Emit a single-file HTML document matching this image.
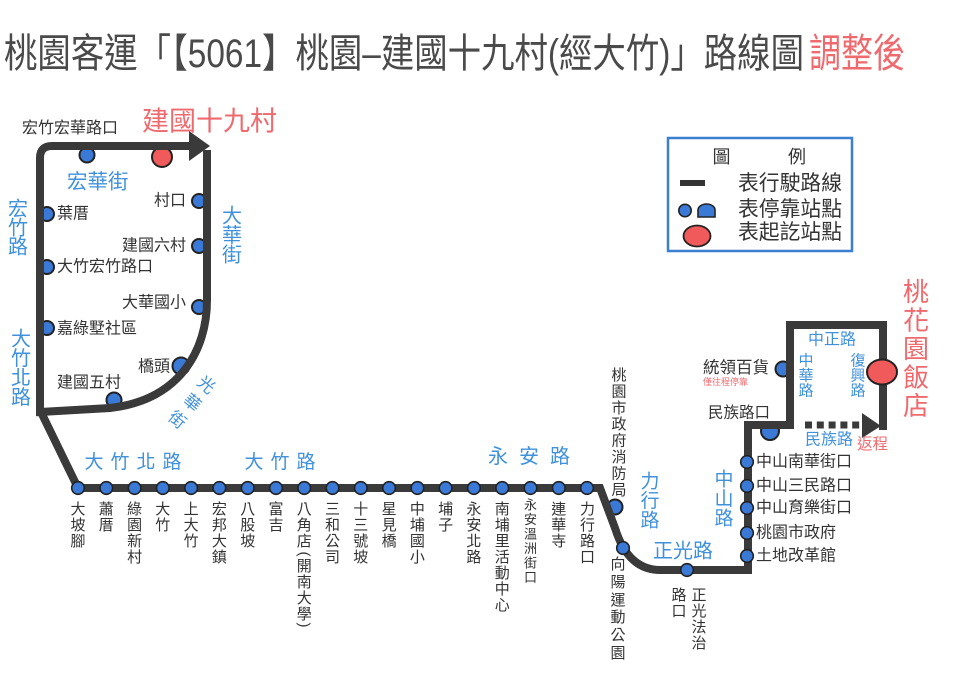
<!DOCTYPE html>
<html><head><meta charset="utf-8">
<style>
html,body{margin:0;padding:0;background:#fff;}
svg{display:block;}
text{font-family:"Liberation Sans","Noto Sans CJK TC",sans-serif;dominant-baseline:central;}
.d{fill:#333;}
.b{fill:#3f91dc;}
.r{fill:#ef6a6e;}
.v{text-anchor:middle;}
</style></head>
<body>
<svg width="960" height="679" viewBox="0 0 960 679" xmlns="http://www.w3.org/2000/svg">
<rect width="960" height="679" fill="#fff"/>

<!-- Title -->
<text x="4" y="54" font-size="40" fill="#4a4a4a" textLength="800" lengthAdjust="spacingAndGlyphs">桃園客運「【5061】桃園–建國十九村(經大竹)」路線圖</text>
<text x="809" y="54" font-size="40" class="r" textLength="96" lengthAdjust="spacingAndGlyphs">調整後</text>

<!-- dome stops (drawn before lines) -->
<g fill="#3a79d5" stroke="#222" stroke-width="2">
<circle cx="87" cy="155" r="7.5"/>
<circle cx="199" cy="201" r="7"/>
<circle cx="199" cy="246" r="7"/>
<circle cx="199" cy="307" r="7"/>
<circle cx="47" cy="214" r="7"/>
<circle cx="47" cy="267" r="7"/>
<circle cx="47" cy="328" r="7"/>
<circle cx="114" cy="400" r="7.5"/>
<circle cx="181" cy="366" r="8.5"/>
<circle cx="783" cy="369" r="7.5"/>
<circle cx="770" cy="431" r="9"/>
<circle cx="615" cy="507" r="7.5"/>
</g>
<circle cx="162" cy="157" r="10" fill="#f05a5a" stroke="#222" stroke-width="2"/>

<!-- route lines -->
<g fill="none" stroke="#3a3a3a" stroke-width="8" stroke-linejoin="miter">
<path d="M207,150 L207,300 C207,350 180,400 110,408 L40,412 L40,158 Q40,146 52,146 L192,146"/>
<path d="M40,410 L78,488"/>
<path d="M78,488 L600,488 L615,528 Q628,570 660,570 L748,570 L748,425 L790,425 L790,325 L883,325 L883,430"/>
</g>
<polygon points="189,131 210,146 189,161" fill="#3a3a3a"/>
<line x1="805" y1="425" x2="860" y2="425" stroke="#3a3a3a" stroke-width="7" stroke-dasharray="7 4.8"/>
<polygon points="862,413 881,426 862,438" fill="#3a3a3a"/>

<!-- round stops on line -->
<g fill="#3a79d5" stroke="#222" stroke-width="1.6">
<circle cx="78" cy="488" r="6.3"/>
<circle cx="106.3" cy="488" r="6.3"/>
<circle cx="134.6" cy="488" r="6.3"/>
<circle cx="162.8" cy="488" r="6.3"/>
<circle cx="191.1" cy="488" r="6.3"/>
<circle cx="219.4" cy="488" r="6.3"/>
<circle cx="247.7" cy="488" r="6.3"/>
<circle cx="276" cy="488" r="6.3"/>
<circle cx="304.2" cy="488" r="6.3"/>
<circle cx="332.5" cy="488" r="6.3"/>
<circle cx="360.8" cy="488" r="6.3"/>
<circle cx="389.1" cy="488" r="6.3"/>
<circle cx="417.4" cy="488" r="6.3"/>
<circle cx="445.6" cy="488" r="6.3"/>
<circle cx="473.9" cy="488" r="6.3"/>
<circle cx="502.2" cy="488" r="6.3"/>
<circle cx="530.5" cy="488" r="6.3"/>
<circle cx="558.8" cy="488" r="6.3"/>
<circle cx="587" cy="488" r="6.3"/>
<circle cx="623" cy="548" r="6.3"/>
<circle cx="687" cy="570" r="6.3"/>
<circle cx="747" cy="462" r="6.3"/>
<circle cx="747" cy="486" r="6.3"/>
<circle cx="747" cy="508" r="6.3"/>
<circle cx="747" cy="533" r="6.3"/>
<circle cx="747" cy="556" r="6.3"/>
</g>
<ellipse cx="882" cy="372" rx="15" ry="12.5" fill="#f05a5a" stroke="#222" stroke-width="2"/>

<!-- Legend -->
<rect x="668" y="138" width="184" height="113" fill="#fff" stroke="#3a7fd0" stroke-width="2.5"/>
<text x="721.5" y="157" font-size="18" class="d v">圖</text>
<text x="797" y="157" font-size="18" class="d v">例</text>
<rect x="680" y="180" width="25" height="6" fill="#333"/>
<circle cx="685" cy="210.5" r="6.2" fill="#3a79d5" stroke="#222" stroke-width="1.6"/>
<path d="M698,217 L698,210 A8.5,6 0 0 1 715,210 L715,217 Z" fill="#3a79d5" stroke="#222" stroke-width="1.6"/>
<ellipse cx="697" cy="236" rx="13.5" ry="10.5" fill="#f05a5a" stroke="#222" stroke-width="1.8"/>
<text x="738" y="183.5" font-size="21" class="d" textLength="104" lengthAdjust="spacingAndGlyphs">表行駛路線</text>
<text x="738" y="209.5" font-size="21" class="d" textLength="104" lengthAdjust="spacingAndGlyphs">表停靠站點</text>
<text x="738" y="232.5" font-size="21" class="d" textLength="104" lengthAdjust="spacingAndGlyphs">表起訖站點</text>

<!-- Left loop labels -->
<text x="22" y="128.5" font-size="16" class="d">宏竹宏華路口</text>
<text x="142" y="121.5" font-size="27" class="r">建國十九村</text>
<text x="67" y="182" font-size="20.5" class="b">宏華街</text>
<g font-size="16" class="d">
<text x="57" y="214" class="d">葉厝</text>
<text x="57" y="267" class="d">大竹宏竹路口</text>
<text x="57" y="329" class="d">嘉綠墅社區</text>
<text x="186" y="201" class="d" text-anchor="end">村口</text>
<text x="186" y="246" class="d" text-anchor="end">建國六村</text>
<text x="186" y="303" class="d" text-anchor="end">大華國小</text>
<text x="170" y="367" class="d" text-anchor="end">橋頭</text>
<text x="57" y="383" class="d">建國五村</text>
</g>
<g font-size="20" class="b v">
<text class="b v"><tspan x="18" y="209.5">宏</tspan><tspan x="18" y="228.5">竹</tspan><tspan x="18" y="247.5">路</tspan></text>
<text class="b v"><tspan x="21" y="339.5">大</tspan><tspan x="21" y="359">竹</tspan><tspan x="21" y="378.5">北</tspan><tspan x="21" y="398">路</tspan></text>
<text class="b v"><tspan x="232" y="216.5">大</tspan><tspan x="232" y="236">華</tspan><tspan x="232" y="255.5">街</tspan></text>
</g>
<g font-size="17">
<text class="b v" transform="translate(206,385) rotate(40)">光</text>
<text class="b v" transform="translate(192,403) rotate(40)">華</text>
<text class="b v" transform="translate(177,420) rotate(40)">街</text>
</g>

<!-- Road names along bottom -->
<g font-size="19">
<text class="b v"><tspan x="94" y="462">大</tspan><tspan x="120" y="462">竹</tspan><tspan x="146" y="462">北</tspan><tspan x="172" y="462">路</tspan></text>
<text class="b v"><tspan x="254" y="462">大</tspan><tspan x="280" y="462">竹</tspan><tspan x="306" y="462">路</tspan></text>
</g>
<text class="b v" font-size="20"><tspan x="498" y="457">永</tspan><tspan x="529" y="457">安</tspan><tspan x="560" y="457">路</tspan></text>

<!-- Bottom stop labels -->
<g font-size="15">
<text class="d v"><tspan x="78" y="509">大</tspan><tspan x="78" y="525">坡</tspan><tspan x="78" y="541">腳</tspan></text>
<text class="d v"><tspan x="106.3" y="509">蕭</tspan><tspan x="106.3" y="525">厝</tspan></text>
<text class="d v"><tspan x="134.6" y="509">綠</tspan><tspan x="134.6" y="525">園</tspan><tspan x="134.6" y="541">新</tspan><tspan x="134.6" y="557">村</tspan></text>
<text class="d v"><tspan x="162.8" y="509">大</tspan><tspan x="162.8" y="525">竹</tspan></text>
<text class="d v"><tspan x="191.1" y="509">上</tspan><tspan x="191.1" y="525">大</tspan><tspan x="191.1" y="541">竹</tspan></text>
<text class="d v"><tspan x="219.4" y="509">宏</tspan><tspan x="219.4" y="525">邦</tspan><tspan x="219.4" y="541">大</tspan><tspan x="219.4" y="557">鎮</tspan></text>
<text class="d v"><tspan x="247.7" y="509">八</tspan><tspan x="247.7" y="525">股</tspan><tspan x="247.7" y="541">坡</tspan></text>
<text class="d v"><tspan x="276" y="509">富</tspan><tspan x="276" y="525">吉</tspan></text>
<text class="d v"><tspan x="304.2" y="509">八</tspan><tspan x="304.2" y="525">角</tspan><tspan x="304.2" y="541">店</tspan><tspan x="304.2" y="566">開</tspan><tspan x="304.2" y="582">南</tspan><tspan x="304.2" y="598">大</tspan><tspan x="304.2" y="614">學</tspan></text>
<text class="d v" transform="translate(304.2,554) rotate(90)">(</text>
<text class="d v" transform="translate(304.2,625) rotate(90)">)</text>
<text class="d v"><tspan x="332.5" y="509">三</tspan><tspan x="332.5" y="525">和</tspan><tspan x="332.5" y="541">公</tspan><tspan x="332.5" y="557">司</tspan></text>
<text class="d v"><tspan x="360.8" y="509">十</tspan><tspan x="360.8" y="525">三</tspan><tspan x="360.8" y="541">號</tspan><tspan x="360.8" y="557">坡</tspan></text>
<text class="d v"><tspan x="389.1" y="509">星</tspan><tspan x="389.1" y="525">見</tspan><tspan x="389.1" y="541">橋</tspan></text>
<text class="d v"><tspan x="417.4" y="509">中</tspan><tspan x="417.4" y="525">埔</tspan><tspan x="417.4" y="541">國</tspan><tspan x="417.4" y="557">小</tspan></text>
<text class="d v"><tspan x="445.6" y="509">埔</tspan><tspan x="445.6" y="525">子</tspan></text>
<text class="d v"><tspan x="473.9" y="509">永</tspan><tspan x="473.9" y="525">安</tspan><tspan x="473.9" y="541">北</tspan><tspan x="473.9" y="557">路</tspan></text>
<text class="d v"><tspan x="502.2" y="509">南</tspan><tspan x="502.2" y="525">埔</tspan><tspan x="502.2" y="541">里</tspan><tspan x="502.2" y="557">活</tspan><tspan x="502.2" y="573">動</tspan><tspan x="502.2" y="589">中</tspan><tspan x="502.2" y="605">心</tspan></text>
<text class="d v"><tspan x="558.8" y="509">連</tspan><tspan x="558.8" y="525">華</tspan><tspan x="558.8" y="541">寺</tspan></text>
<text class="d v"><tspan x="587.5" y="509">力</tspan><tspan x="587.5" y="525">行</tspan><tspan x="587.5" y="541">路</tspan><tspan x="587.5" y="557">口</tspan></text>
</g>
<text class="d v" font-size="13"><tspan x="530.5" y="504.5">永</tspan><tspan x="530.5" y="519">安</tspan><tspan x="530.5" y="533.5">溫</tspan><tspan x="530.5" y="548">洲</tspan><tspan x="530.5" y="562.5">街</tspan><tspan x="530.5" y="577">口</tspan></text>

<!-- Right-middle labels -->
<g font-size="15">
<text class="d v"><tspan x="619" y="375">桃</tspan><tspan x="619" y="391.4">園</tspan><tspan x="619" y="407.8">市</tspan><tspan x="619" y="424.2">政</tspan><tspan x="619" y="440.6">府</tspan><tspan x="619" y="457">消</tspan><tspan x="619" y="473.4">防</tspan><tspan x="619" y="489.8">局</tspan></text>
<text class="d v"><tspan x="618" y="564">向</tspan><tspan x="618" y="582">陽</tspan><tspan x="618" y="600">運</tspan><tspan x="618" y="617">動</tspan><tspan x="618" y="635">公</tspan><tspan x="618" y="653">園</tspan></text>
<text class="d v"><tspan x="699" y="595">正</tspan><tspan x="699" y="611">光</tspan><tspan x="699" y="627">法</tspan><tspan x="699" y="643">治</tspan></text>
<text class="d v"><tspan x="679" y="595">路</tspan><tspan x="679" y="611">口</tspan></text>
</g>
<g font-size="19">
<text class="b v"><tspan x="650" y="481.5">力</tspan><tspan x="650" y="501">行</tspan><tspan x="650" y="520.5">路</tspan></text>
<text class="b v"><tspan x="724" y="479.5">中</tspan><tspan x="724" y="499">山</tspan><tspan x="724" y="518.5">路</tspan></text>
</g>
<text x="653" y="551.5" font-size="20" class="b">正光路</text>

<g font-size="16">
<text x="756" y="462" class="d">中山南華街口</text>
<text x="756" y="486" class="d">中山三民路口</text>
<text x="756" y="508" class="d">中山育樂街口</text>
<text x="756" y="533" class="d">桃園市政府</text>
<text x="756" y="556" class="d">土地改革館</text>
</g>

<!-- Top-right loop labels -->
<text x="808" y="340" font-size="16" class="b">中正路</text>
<g font-size="15">
<text class="b v"><tspan x="806" y="360.5">中</tspan><tspan x="806" y="375.5">華</tspan><tspan x="806" y="390.5">路</tspan></text>
<text class="b v"><tspan x="858" y="360.5">復</tspan><tspan x="858" y="375.5">興</tspan><tspan x="858" y="390.5">路</tspan></text>
</g>
<text x="769" y="368" font-size="16.5" class="d" text-anchor="end">統領百貨</text>
<text x="703" y="382" font-size="9" class="r">僅往程停靠</text>
<text x="770" y="413" font-size="15.5" class="d" text-anchor="end">民族路口</text>
<text x="805" y="440" font-size="16" class="b">民族路</text>
<text x="857" y="444.5" font-size="15.5" class="r">返程</text>
<text class="r v" font-size="26"><tspan x="916" y="292">桃</tspan><tspan x="916" y="320.5">花</tspan><tspan x="916" y="349">園</tspan><tspan x="916" y="377.5">飯</tspan><tspan x="916" y="406">店</tspan></text>
</svg>
</body></html>
